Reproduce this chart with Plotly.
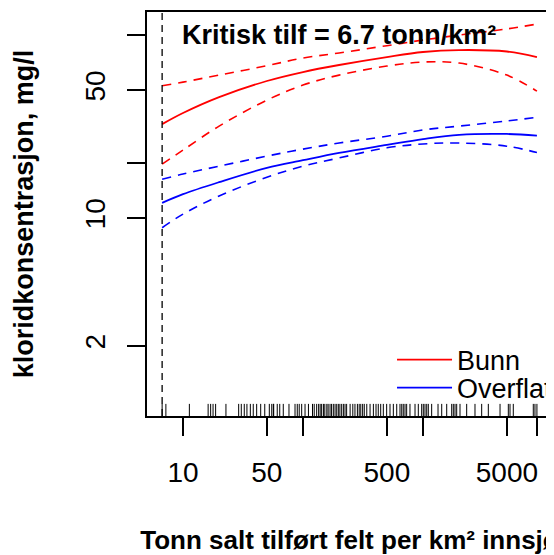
import plotly.graph_objects as go

# critical load (tonn/km2)
kritisk_tilf = 6.7

# fitted curves, x = tonn salt per km2 innsjø
x_fit = [6.7, 10, 20, 50, 100, 200, 500, 1000, 2000, 5000, 8900]

bunn_fit = [32.6, 37.5, 45.8, 56.1, 62.8, 68.6, 75.8, 80.8, 82.8, 81.3, 75.8]
bunn_upper = [52.8, 55.3, 60.4, 68.0, 74.9, 79.8, 87.5, 93.9, 100.0, 108.0, 114.8]
bunn_lower = [19.7, 23.5, 31.8, 44.1, 53.3, 60.4, 67.7, 71.2, 70.3, 60.4, 49.4]

overflate_fit = [12.1, 13.5, 15.7, 18.8, 20.7, 22.7, 25.1, 27.0, 28.5, 28.8, 28.2]
overflate_upper = [16.3, 17.4, 19.2, 21.8, 23.8, 25.7, 28.0, 30.3, 31.8, 33.9, 35.5]
overflate_lower = [8.85, 10.5, 13.2, 16.7, 19.2, 21.3, 24.2, 25.4, 25.7, 24.7, 22.8]

# observed salt loads (rug)
rug_x = [
    6.7, 7.2, 11.3, 16.2, 17.0, 17.8, 18.7, 22.8, 29.1, 30.6, 32.4, 34.1, 36.4,
    38.5, 41.1, 44.4, 48.0, 52.4, 54.9, 56.6, 57, 61, 64, 68.5, 76.4, 85.8,
    89.6, 93, 97.5, 104, 111, 120, 124, 130, 135, 139, 143, 148, 152, 158,
    162, 168, 173, 179, 185, 191, 197, 203, 210, 217, 224, 231, 247, 260,
    271, 284, 294, 303, 314, 324, 340, 362, 386, 406, 424, 444, 467, 498,
    531, 566, 604, 643, 665, 685, 708, 731, 779, 858, 914, 975, 1006, 1039,
    1074, 1107, 1181, 1334, 1432, 1576, 1734, 1789, 1848, 1909, 2034, 2312,
    2712, 3083, 3502, 4385, 5140, 5310, 5655, 8300, 8570, 8900,
]

x_tickvals = [10, 50, 100, 500, 1000, 5000, 8900]
x_ticktext = ["10", "50", "", "500", "", "5000", ""]
y_tickvals = [2, 10, 20, 50, 100]
y_ticktext = ["2", "10", "", "50", ""]

RED = "#ff0000"
BLUE = "#0000ff"
FONT = "Liberation Sans, Arial, sans-serif"
DASH = "9px,7px"

fig = go.Figure()


def band_line(y, color, dash=None, name=None, legend=None):
    fig.add_trace(go.Scatter(
        x=x_fit, y=y, mode="lines", name=name,
        showlegend=name is not None, legend=legend,
        line={"color": color, "width": 1.6 if dash else 1.8,
              "dash": dash or "solid", "shape": "spline"},
    ))


band_line(bunn_upper, RED, DASH)
band_line(bunn_lower, RED, DASH)
band_line(bunn_fit, RED, name="Bunn", legend="legend")
band_line(overflate_upper, BLUE, DASH)
band_line(overflate_lower, BLUE, DASH)
band_line(overflate_fit, BLUE, name="Overflate", legend="legend2")

# rug along the bottom, on a 0-1 helper axis
rx, ry = [], []
for v in rug_x:
    rx += [v, v, None]
    ry += [0, 0.03, None]
fig.add_trace(go.Scatter(x=rx, y=ry, yaxis="y2", mode="lines", showlegend=False,
                         line={"color": "black", "width": 1}, hoverinfo="skip"))

# critical load line
fig.add_trace(go.Scatter(x=[kritisk_tilf, kritisk_tilf], y=[0, 1], yaxis="y2",
                         mode="lines", showlegend=False,
                         line={"color": "black", "width": 1.3, "dash": "7px,5px"}))

fig.add_annotation(
    text=f"Kritisk tilf = {kritisk_tilf} tonn/km²",
    xref="paper", yref="paper", x=0.474, y=0.943,
    xanchor="center", yanchor="middle", showarrow=False,
    font={"family": FONT, "size": 27, "color": "black", "weight": "bold"},
)

axis_common = dict(
    type="log", showline=True, mirror=True, linecolor="black", linewidth=1.5,
    ticks="outside", ticklen=18, tickwidth=1.5, tickcolor="black",
    showgrid=False, zeroline=False,
    tickfont={"family": FONT, "size": 28, "color": "black"},
)

legend_common = dict(
    xanchor="left", yanchor="middle", itemwidth=55,
    bgcolor="rgba(0,0,0,0)", font={"family": FONT, "size": 27},
)

# page body keeps an 8px margin, so the figure is 8px smaller than the window
fig.update_layout(
    width=546, height=547,
    margin={"l": 139, "r": 2, "t": 4, "b": 139, "autoexpand": False},
    paper_bgcolor="white", plot_bgcolor="white",
    font={"family": FONT, "color": "black"},
    xaxis=dict(
        axis_common, range=[0.700, 4.075],
        tickvals=x_tickvals, ticktext=x_ticktext, ticklabelstandoff=13,
        title={"text": "Tonn salt tilført felt per km² innsjø", "standoff": 45,
               "font": {"family": FONT, "size": 26, "weight": "bold"}},
    ),
    yaxis=dict(
        axis_common, range=[-0.082, 2.126], tickangle=-90,
        tickvals=y_tickvals, ticktext=y_ticktext, ticklabelstandoff=11,
        title={"text": "kloridkonsentrasjon, mg/l", "standoff": 39,
               "font": {"family": FONT, "size": 27, "weight": "bold"}},
    ),
    yaxis2={"overlaying": "y", "range": [0, 1], "visible": False, "fixedrange": True},
    legend=dict(legend_common, x=0.605, y=0.1386),
    legend2=dict(legend_common, x=0.605, y=0.0693),
)

fig.write_html("out.html")
